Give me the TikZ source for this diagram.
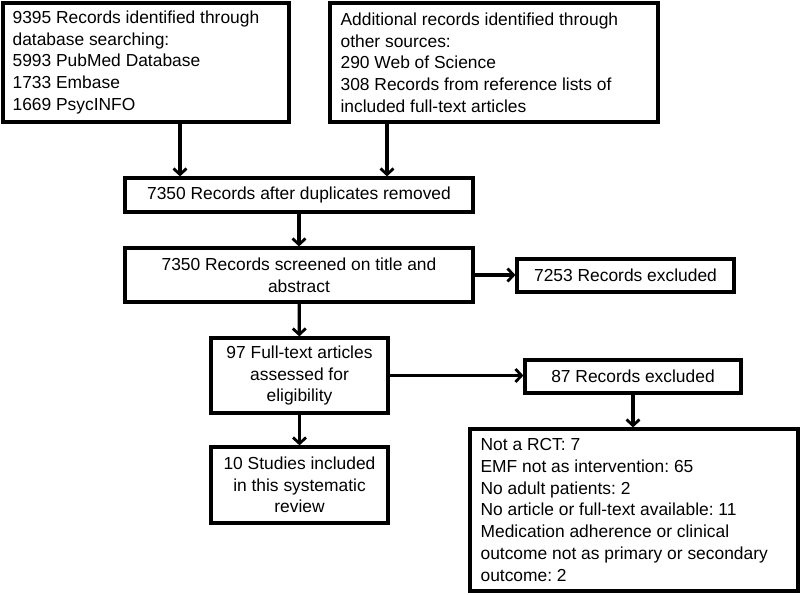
\documentclass[tikz,border=0pt]{standalone}
\usepackage{fontspec}
\setmainfont{Liberation Sans}
\usetikzlibrary{arrows.meta}
\frenchspacing
\begin{document}
\begin{tikzpicture}[x=1pt,y=-1pt,
  txt/.style={inner sep=0pt,font=\fontsize{17.4}{21.7}\selectfont},
  box/.style={txt,draw=black,line width=3.2pt},
  arr/.style={line width=3.2pt,-{Straight Barb[length=6pt,width=13pt,line width=2.8pt]}},
  mkbox/.style args={#1/#2}{box,minimum width=#1,minimum height=#2}]
\useasboundingbox[fill=white] (0,0) rectangle (800,594);
% boxes: corners measured in pixels
\node[mkbox=286pt/119pt] (b1) at (146,62.5) {};
\node[txt,align=left,anchor=west] (t1) at ([xshift=11pt]b1.west)
  {9395 Records identified through\\database searching:\\5993 PubMed Database\\1733 Embase\\1669 PsycINFO};
\node[mkbox=328pt/119pt] (b2) at (494,62.5) {};
\node[txt,align=left,anchor=west] (t2) at ([xshift=12pt]b2.west)
  {Additional records identified through\\other sources:\\290 Web of Science\\308 Records from reference lists of\\included full-text articles};
\node[mkbox=348pt/34pt,align=center] (b3) at (299,195) {7350 Records after duplicates removed};
\node[mkbox=348pt/54pt,align=center] (b4) at (299,275) {7350 Records screened on title and\\abstract};
\node[mkbox=217pt/33pt,align=center] (b5) at (625.5,275.5) {7253 Records excluded};
\node[mkbox=177pt/75pt,align=center] (b6) at (299.5,375.5) {97 Full-text articles\\assessed for\\eligibility};
\node[mkbox=177pt/76pt,align=center] (b7) at (299.5,485) {10 Studies included\\in this systematic\\review};
\node[mkbox=216pt/33pt,align=center] (b8) at (633,376.5) {87 Records excluded};
\node[mkbox=328pt/162pt] (b9) at (634,510) {};
\node[txt,align=left,anchor=west] (t9) at ([xshift=12pt]b9.west)
  {Not a RCT: 7\\EMF not as intervention: 65\\No adult patients: 2\\No article or full-text available: 11\\Medication adherence or clinical\\outcome not as primary or secondary\\outcome: 2};
% connector positions
\coordinate (c1) at (180,0);
\coordinate (c2) at (387,0);
\draw[arr] (b1.south -| c1) -- (b3.north -| c1);
\draw[arr] (b2.south -| c2) -- (b3.north -| c2);
\draw[arr] (b3) -- (b4);
\draw[arr] (b4.east) -- (b4.east -| b5.west);
\draw[arr] (b4) -- (b6);
\draw[arr] (b6) -- (b7);
\draw[arr] (b6.east) -- (b6.east -| b8.west);
\draw[arr] (b8) -- (b8 |- b9.north);
\end{tikzpicture}
\end{document}
